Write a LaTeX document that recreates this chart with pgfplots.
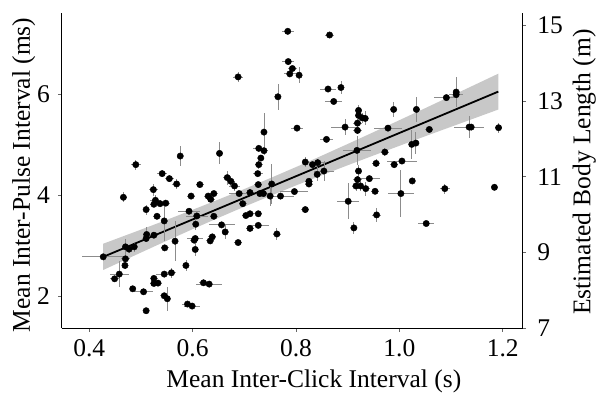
\documentclass[border=0pt]{standalone}
\usepackage{fontspec}
\setmainfont{Liberation Serif}
\usepackage{pgfplots}
\usepackage{pgfplotstable}
\pgfplotsset{compat=1.18}
\definecolor{bandgray}{HTML}{C8C8C8}
\definecolor{errgray}{HTML}{8C8C8C}
\pgfplotstableread{
x y ex ey
0.490 4.603 0.010 0.10
0.576 4.773 0.006 0.20
0.652 4.826 0.006 0.22
0.688 6.340 0.010 0.10
0.728 4.925 0.012 0.06
0.728 4.603 0.008 0.08
0.784 7.243 0.012 0.04
0.865 7.170 0.008 0.04
0.785 6.644 0.012 0.06
0.793 6.506 0.008 0.06
0.788 6.400 0.012 0.06
0.806 6.374 0.006 0.16
0.862 6.100 0.016 0.04
0.887 6.130 0.006 0.12
0.873 5.854 0.016 0.04
0.765 5.947 0.004 0.26
1.091 5.930 0.023 0.04
0.921 5.676 0.006 0.10
0.921 5.577 0.006 0.10
0.928 5.530 0.006 0.10
0.934 5.518 0.006 0.14
0.989 5.696 0.006 0.14
1.033 5.696 0.006 0.24
0.738 5.247 0.006 0.38
0.802 5.326 0.012 0.04
0.895 5.346 0.027 0.16
0.919 5.425 0.008 0.08
0.919 5.280 0.008 0.08
0.978 5.326 0.027 0.06
1.058 5.300 0.008 0.04
0.738 4.879 0.008 0.08
0.732 4.733 0.006 0.06
0.859 5.103 0.012 0.04
0.918 4.885 0.027 0.28
0.972 4.852 0.008 0.08
1.024 5.004 0.006 0.28
1.032 5.030 0.006 0.22
0.818 4.654 0.006 0.10
0.832 4.603 0.006 0.06
0.842 4.642 0.016 0.06
0.955 4.628 0.008 0.08
0.990 4.603 0.008 0.06
1.005 4.674 0.029 0.06
1.110 6.040 0.006 0.30
1.110 5.990 0.014 0.06
1.135 5.346 0.029 0.22
1.139 5.346 0.008 0.06
1.192 5.334 0.006 0.10
1.088 4.128 0.010 0.10
1.184 4.154 0.004 0.06
0.726 4.425 0.010 0.06
0.727 4.208 0.008 0.06
0.711 4.050 0.008 0.06
0.730 4.030 0.008 0.06
0.737 4.030 0.008 0.06
0.753 4.220 0.006 0.40
0.750 3.980 0.006 0.20
0.770 3.980 0.027 0.04
0.797 4.070 0.027 0.06
0.841 4.410 0.006 0.14
0.854 4.476 0.020 0.20
0.825 4.273 0.008 0.06
0.825 4.220 0.008 0.06
0.818 3.713 0.008 0.06
0.921 4.476 0.006 0.12
0.919 4.306 0.008 0.08
0.942 4.326 0.020 0.06
0.916 4.180 0.008 0.10
0.925 4.180 0.008 0.10
0.935 4.128 0.008 0.14
0.953 4.075 0.008 0.06
1.025 4.280 0.006 0.06
0.901 3.877 0.021 0.36
1.003 4.030 0.025 0.46
0.956 3.607 0.008 0.14
0.912 3.350 0.006 0.12
1.052 3.437 0.016 0.04
0.711 3.630 0.008 0.06
0.727 3.630 0.008 0.06
0.711 3.340 0.008 0.06
0.727 3.400 0.020 0.06
0.763 3.230 0.008 0.12
0.541 4.425 0.010 0.06
0.555 4.326 0.008 0.06
0.569 4.220 0.008 0.10
0.614 4.208 0.008 0.06
0.524 4.108 0.008 0.12
0.466 3.956 0.006 0.10
0.528 3.897 0.010 0.10
0.525 3.818 0.008 0.06
0.537 3.830 0.008 0.06
0.548 3.840 0.008 0.06
0.510 3.713 0.006 0.10
0.597 3.980 0.008 0.06
0.630 3.980 0.008 0.06
0.635 3.917 0.008 0.06
0.641 4.030 0.008 0.06
0.667 4.346 0.008 0.14
0.674 4.273 0.008 0.10
0.681 4.180 0.010 0.10
0.690 4.030 0.020 0.06
0.697 3.830 0.008 0.06
0.703 3.595 0.008 0.06
0.531 3.580 0.008 0.06
0.545 3.488 0.006 0.40
0.593 3.680 0.022 0.06
0.608 3.587 0.021 0.06
0.606 3.423 0.006 0.12
0.641 3.580 0.008 0.06
0.656 3.410 0.025 0.06
0.663 3.270 0.006 0.14
0.688 3.060 0.008 0.06
0.511 3.220 0.006 0.14
0.510 3.140 0.006 0.06
0.525 3.206 0.008 0.06
0.546 2.955 0.008 0.06
0.566 3.087 0.006 0.40
0.603 3.107 0.008 0.06
0.605 3.140 0.016 0.06
0.605 2.923 0.006 0.12
0.634 3.093 0.008 0.06
0.638 3.172 0.008 0.06
0.470 2.975 0.006 0.16
0.477 2.929 0.008 0.06
0.487 2.975 0.006 0.10
0.427 2.777 0.041 0.06
0.470 2.737 0.008 0.16
0.469 2.606 0.006 0.06
0.587 2.606 0.006 0.10
0.458 2.435 0.018 0.26
0.449 2.342 0.008 0.06
0.545 2.435 0.016 0.06
0.559 2.461 0.008 0.10
0.525 2.350 0.008 0.06
0.525 2.250 0.008 0.06
0.533 2.257 0.008 0.06
0.484 2.144 0.006 0.06
0.505 2.085 0.018 0.06
0.621 2.263 0.008 0.06
0.632 2.237 0.025 0.06
0.545 2.006 0.008 0.06
0.551 1.947 0.006 0.24
0.590 1.842 0.010 0.06
0.599 1.802 0.016 0.06
0.510 1.710 0.006 0.06
}\pts
\newcommand{\bigfont}{\fontsize{25.5}{30}\selectfont}
\begin{document}
\begin{tikzpicture}
\begin{axis}[
  at={(0,0)}, anchor=south west,
  scale only axis, width=461pt, height=315pt,
  xmin=0.3466, xmax=1.2387, ymin=1.362, ymax=7.60,
  axis x line*=bottom, axis y line*=left,
  axis line style={line width=0.9pt, -},
  tick align=outside, major tick length=3.5pt,
  tick style={black!60, line width=0.7pt},
  xtick={0.4,0.6,0.8,1.0,1.2}, xticklabels={0.4,0.6,0.8,1.0,1.2},
  ytick={2,4,6}, yticklabels={2,4,6},
  tick label style={font=\bigfont},
  xticklabel style={anchor=north, inner sep=0pt, yshift=-7.5pt},
  yticklabel style={anchor=east, inner sep=0pt, xshift=-8pt},
  xlabel={Mean Inter-Click Interval (s)},
  ylabel={Mean Inter-Pulse Interval (ms)},
  every axis x label/.style={at={(axis description cs:0.547,-0.1885)}, anchor=base, font=\bigfont},
  every axis y label/.style={at={(axis description cs:-0.0688,0.487)}, rotate=90, anchor=base, font=\bigfont},
]
\addplot[fill=bandgray, draw=none] coordinates {
(0.427,3.037) (0.5,3.316) (0.55,3.510) (0.6,3.709) (0.65,3.912) (0.7,4.120)
(0.75,4.335) (0.8,4.555) (0.85,4.781) (0.9,5.012) (0.95,5.246) (1.0,5.483)
(1.05,5.721) (1.1,5.962) (1.1915,6.404)
(1.1915,5.694) (1.1,5.352) (1.05,5.165) (1.0,4.975) (0.95,4.784) (0.9,4.590)
(0.85,4.393) (0.8,4.191) (0.75,3.983) (0.7,3.770) (0.65,3.550) (0.6,3.325)
(0.55,3.096) (0.5,2.862) (0.427,2.517)
} -- cycle;
\addplot[black, line width=1.8pt] coordinates {(0.427,2.777) (1.1915,6.049)};
\addplot[only marks, mark=*, mark size=3.2pt, black,
  error bars/.cd, x dir=both, x explicit, y dir=both, y explicit,
  error mark=none, error bar style={errgray, line width=0.8pt}]
  table[x=x, y=y, x error=ex, y error=ey] {\pts};
\end{axis}
\begin{axis}[
  at={(0,0)}, anchor=south west,
  scale only axis, width=461pt, height=315pt,
  xmin=0.3466, xmax=1.2387, ymin=7, ymax=15.31,
  hide x axis, axis y line*=right,
  axis line style={line width=0.9pt, -},
  tick align=outside, major tick length=3.5pt,
  tick style={black!60, line width=0.7pt},
  ytick={7,9,11,13,15}, yticklabels={7,9,11,13,15},
  tick label style={font=\bigfont},
  yticklabel style={anchor=west, inner sep=0pt, xshift=11pt},
  ylabel={Estimated Body Length (m)},
  every axis y label/.style={at={(axis description cs:1.147,0.496)}, rotate=90, anchor=base, font=\bigfont},
]
\addplot[draw=none] coordinates {(0.5,10)};
\end{axis}
\pgfresetboundingbox
\path[use as bounding box] (-61.7pt,-64.7pt) rectangle (536.3pt,328.3pt);
\end{tikzpicture}
\end{document}
